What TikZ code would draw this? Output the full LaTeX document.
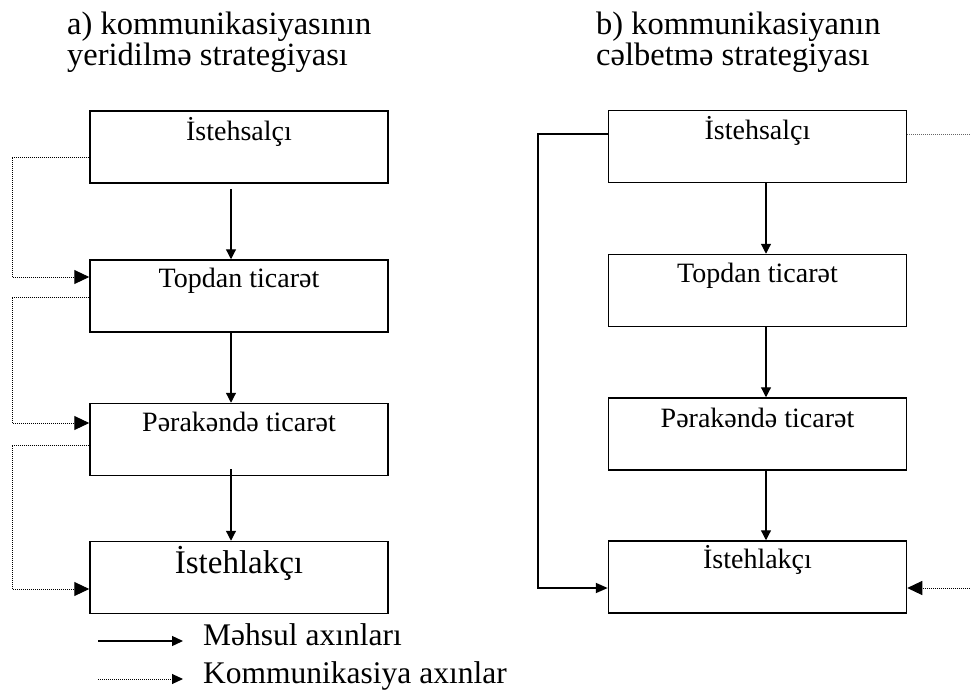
\documentclass[tikz,border=0pt]{standalone}
\usepackage{fontspec}
\setmainfont{Liberation Serif}
\usetikzlibrary{arrows.meta}
\tikzset{
  box/.style={draw, line width=1.5pt, minimum width=298pt, minimum height=72pt, inner sep=0pt},
  boxtext/.style={font=\fontsize{28}{30}\selectfont, anchor=base, inner sep=0pt},
  bigboxtext/.style={font=\fontsize{33}{35}\selectfont, anchor=base, inner sep=0pt},
  titletext/.style={font=\fontsize{32.5}{34}\selectfont, anchor=base west, inner sep=0pt},
  legtext/.style={font=\fontsize{31.5}{34}\selectfont, anchor=base west, inner sep=0pt},
  flow/.style={line width=1.2pt, -{Triangle[length=10pt,width=10pt]}},
  flowthick/.style={line width=1.8pt, -{Triangle[length=12pt,width=10pt]}},
  comm/.style={line width=1pt, dash pattern=on 1pt off 1pt, -{Triangle[length=15pt,width=14pt]}},
  commline/.style={line width=1pt, dash pattern=on 1pt off 1pt, black!60},
  legflow/.style={line width=1.3pt, -{Triangle[length=11pt,width=10pt]}},
  legcomm/.style={line width=1pt, dash pattern=on 1pt off 1pt, -{Triangle[length=11pt,width=10pt]}},
}
\begin{document}
\begin{tikzpicture}[x=1pt,y=-1pt]
\useasboundingbox (0,0) rectangle (970,699);
\fill[white] (0,0) rectangle (970,699);

% titles
\node[titletext] (ta1) at (67,34) {a) kommunikasiyasının};
\node[titletext] (ta2) at (67,65) {yeridilmə strategiyası};
\node[titletext] (tb1) at (596,34) {b) kommunikasiyanın};
\node[titletext] (tb2) at (596,65) {cəlbetmə strategiyası};

% left column boxes
\node[box] (L1) at (239,147) {};
\node[box] (L2) at (239,296) {};
\node[box] (L3) at (239,439.5) {};
\node[box] (L4) at (239,577.5) {};
\node[boxtext] (L1t) at ([yshift=-30pt]L1.north) {İstehsalçı};
\node[boxtext] (L2t) at ([yshift=-28pt]L2.north) {Topdan ticarət};
\node[boxtext] (L3t) at ([yshift=-29pt]L3.north) {Pərakəndə ticarət};
\node[bigboxtext] (L4t) at ([yshift=-33pt]L4.north) {İstehlakçı};

% right column boxes
\node[box] (R1) at (757.5,146.5) {};
\node[box] (R2) at (757.5,290.5) {};
\node[box] (R3) at (757.5,434) {};
\node[box] (R4) at (757.5,577) {};
\node[boxtext] (R1t) at ([yshift=-30pt]R1.north) {İstehsalçı};
\node[boxtext] (R2t) at ([yshift=-29pt]R2.north) {Topdan ticarət};
\node[boxtext] (R3t) at ([yshift=-30pt]R3.north) {Pərakəndə ticarət};
\node[boxtext] (R4t) at ([yshift=-28pt]R4.north) {İstehlakçı};

% left product flows
\draw[flow] ([xshift=-8pt,yshift=-5pt]L1.south) -- ([xshift=-8pt]L2.north);
\draw[flow] ([xshift=-8pt]L2.south) -- ([xshift=-8pt]L3.north);
\draw[flow] ([xshift=-8pt,yshift=7pt]L3.south) -- ([xshift=-8pt]L4.north);

% right product flows
\draw[flow] ([xshift=8.5pt]R1.south) -- ([xshift=8.5pt]R2.north);
\draw[flow] ([xshift=8.5pt]R2.south) -- ([xshift=8.5pt]R3.north);
\draw[flow] ([xshift=8.5pt]R3.south) -- ([xshift=8.5pt]R4.north);

% left communication flows
\draw[comm] ([yshift=-10pt]L1.west) -| (12,277) -- ([yshift=19pt]L2.west);
\draw[comm] ([yshift=-1pt]L2.west) -| (12,423) -- ([yshift=16.5pt]L3.west);
\draw[comm] ([yshift=-5.5pt]L3.west) -| (12,589) -- ([yshift=-11.5pt]L4.west);

% right flows
\draw[flowthick] ([yshift=12.5pt]R1.west) -| (538,588) -- ([yshift=-11pt]R4.west);
\coordinate (RtopEnd) at (970,134);
\coordinate (RbotStart) at (970,588);
\draw[commline] ([yshift=12.5pt]R1.east) -- (RtopEnd);
\draw[comm] (RbotStart) -- ([yshift=-11pt]R4.east);

% legend
\coordinate (lg1a) at (98,641);
\coordinate (lg1b) at (183,641);
\coordinate (lg2a) at (98,679);
\coordinate (lg2b) at (183,679);
\draw[legflow] (lg1a) -- (lg1b);
\draw[legcomm] (lg2a) -- (lg2b);
\node[legtext] (lg1) at (203,645) {Məhsul axınları};
\node[legtext] (lg2) at (203,683) {Kommunikasiya axınlar};
\end{tikzpicture}
\end{document}
